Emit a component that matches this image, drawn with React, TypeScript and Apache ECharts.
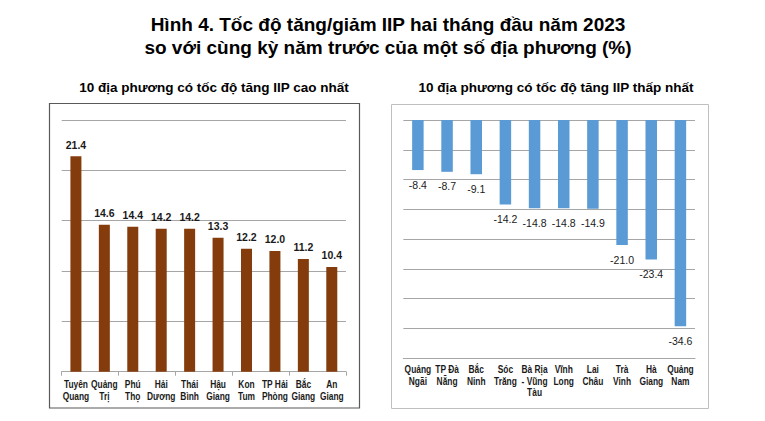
import React, { useEffect, useRef } from "react";
import * as echarts from "echarts";

const mainTitle = "Hình 4. Tốc độ tăng/giảm IIP hai tháng đầu năm 2023\nso với cùng kỳ năm trước của một số địa phương (%)";
const leftTitle = "10 địa phương có tốc độ tăng IIP cao nhất";
const rightTitle = "10 địa phương có tốc độ tăng IIP thấp nhất";

const leftCategories = ["Tuyên\nQuang", "Quảng\nTrị", "Phú\nThọ", "Hải\nDương", "Thái\nBình", "Hậu\nGiang", "Kon\nTum", "TP Hải\nPhòng", "Bắc\nGiang", "An\nGiang"];
const leftValues = [21.4, 14.6, 14.4, 14.2, 14.2, 13.3, 12.2, 12.0, 11.2, 10.4];

const rightCategories = ["Quảng\nNgãi", "TP Đà\nNẵng", "Bắc\nNinh", "Sóc\nTrăng", "Bà Rịa\n- Vũng\nTàu", "Vĩnh\nLong", "Lai\nChâu", "Trà\nVinh", "Hà\nGiang", "Quảng\nNam"];
const rightValues = [-8.4, -8.7, -9.1, -14.2, -14.8, -14.8, -14.9, -21.0, -23.4, -34.6];

const SANS = '"Liberation Sans", Arial, sans-serif';

const frames = [
  { type: "rect", id: "frameL", z: -10, shape: { x: 49.5, y: 103.5, width: 310, height: 304.5 }, style: { fill: "#ffffff", stroke: "#595959", lineWidth: 1.2 } },
  { type: "rect", id: "frameR", z: -10, shape: { x: 391.5, y: 104.5, width: 317, height: 304 }, style: { fill: "#ffffff", stroke: "#bfbfbf", lineWidth: 1 } },
];

export default function App() {
  const ref = useRef<HTMLDivElement>(null);
  useEffect(() => {
    if (!ref.current) return;
    const chart = echarts.init(ref.current, null, { renderer: "svg" });
    chart.setOption({
      animation: false,
      backgroundColor: "#ffffff",
      graphic: frames,
      title: [
        { text: mainTitle, left: 383, top: 8, textAlign: "center", textStyle: { fontFamily: SANS, fontSize: 19, fontWeight: "bold", color: "#000", lineHeight: 23 } },
        { text: leftTitle, left: 209, top: 75, textAlign: "center", textStyle: { fontFamily: SANS, fontSize: 13.5, fontWeight: "bold", color: "#000" } },
        { text: rightTitle, left: 551, top: 75, textAlign: "center", textStyle: { fontFamily: SANS, fontSize: 13.5, fontWeight: "bold", color: "#000" } },
      ],
      grid: [
        { left: 61.7, top: 120, width: 284.3, height: 251.7, containLabel: false },
        { left: 403.3, top: 120, width: 291.7, height: 238.3, containLabel: false },
      ],
      xAxis: [
        {
          type: "category", gridIndex: 0, data: leftCategories,
          axisLine: { lineStyle: { color: "#a6a6a6" } },
          axisTick: { show: true, length: 4, lineStyle: { color: "#a6a6a6" } },
          axisLabel: { show: false },
        },
        {
          type: "category", gridIndex: 1, data: rightCategories, position: "bottom",
          axisLine: { onZero: false, lineStyle: { color: "#a6a6a6" } },
          axisTick: { show: false },
          axisLabel: { show: false },
        },
      ],
      yAxis: [
        {
          type: "value", gridIndex: 0, min: 0, max: 25, interval: 5,
          axisLabel: { show: false }, axisLine: { show: false }, axisTick: { show: false },
          splitLine: { lineStyle: { color: "#a6a6a6" } },
        },
        {
          type: "value", gridIndex: 1, min: -40, max: 0, interval: 5,
          axisLabel: { show: false }, axisLine: { show: false }, axisTick: { show: false },
          splitLine: { lineStyle: { color: "#a6a6a6" } },
        },
      ],
      series: [
        {
          type: "bar", xAxisIndex: 0, yAxisIndex: 0, data: leftValues, barWidth: 11,
          itemStyle: { color: "#843c0c" },
          label: { show: true, position: "top", distance: 6, fontFamily: SANS, fontSize: 10.5, fontWeight: "bold", color: "#1a1a1a", formatter: (p: any) => Number(p.value).toFixed(1) },
        },
        {
          type: "bar", xAxisIndex: 1, yAxisIndex: 1, data: rightValues, barWidth: 11.5,
          itemStyle: { color: "#5b9bd5" },
          label: { show: true, position: "bottom", distance: 9, fontFamily: SANS, fontSize: 10.5, color: "#1a1a1a", formatter: (p: any) => Number(p.value).toFixed(1) },
        },
      ],
    });

    // Category labels drawn at the axes' own pixel positions, horizontally condensed
    const labelGraphics: any[] = [];
    const yL = chart.convertToPixel({ yAxisIndex: 0 }, 0) as number;
    const yR = chart.convertToPixel({ yAxisIndex: 1 }, -40) as number;
    leftCategories.forEach((c, i) => {
      const x = chart.convertToPixel({ xAxisIndex: 0 }, c) as number;
      labelGraphics.push({
        type: "text", id: "lcat" + i, x, y: yL + 6.5, scaleX: 0.73, silent: true,
        style: { text: c, x: 0, y: 0, align: "center", verticalAlign: "top", fontFamily: SANS, fontSize: 11.5, fontWeight: "bold", lineHeight: 12, fill: "#1a1a1a" },
      });
    });
    rightCategories.forEach((c, i) => {
      const x = chart.convertToPixel({ xAxisIndex: 1 }, c) as number;
      labelGraphics.push({
        type: "text", id: "rcat" + i, x, y: yR + 5, scaleX: 0.73, silent: true,
        style: { text: c, x: 0, y: 0, align: "center", verticalAlign: "top", fontFamily: SANS, fontSize: 11.5, fontWeight: "bold", lineHeight: 11.5, fill: "#1a1a1a" },
      });
    });
    chart.setOption({ graphic: [...frames, ...labelGraphics] });
    return () => chart.dispose();
  }, []);
  return <div ref={ref} style={{ position: "fixed", left: 0, top: 0, width: 765, height: 421 }} />;
}
